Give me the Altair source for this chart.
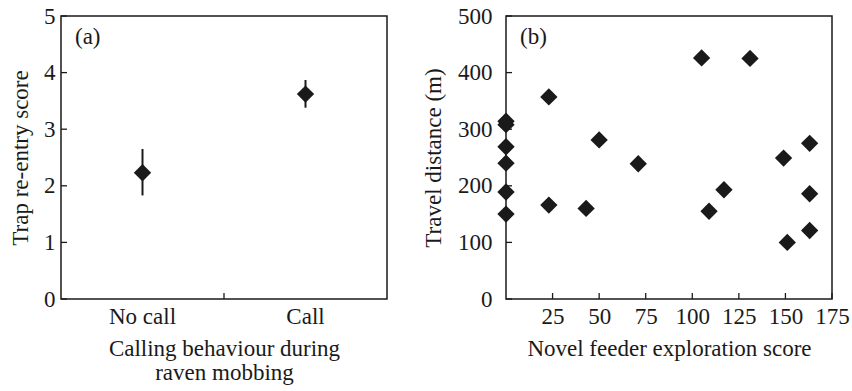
import altair as alt
import pandas as pd

# ---- Panel (a) data ----
calls = ["No call", "Call"]
call_means = [2.23, 3.62]
call_lo = [1.83, 3.38]
call_hi = [2.65, 3.87]
a_yticks = [0, 1, 2, 3, 4, 5]

# ---- Panel (b) data ----
explore = [0, 0, 0, 0, 0, 0, 23, 23, 43, 50, 71, 105, 109, 117, 131, 149, 151, 163, 163, 163]
travel = [314, 308, 269, 240, 189, 150, 357, 166, 160, 281, 239, 426, 155, 193, 425, 249, 100, 275, 186, 121]
b_xticks = [25, 50, 75, 100, 125, 150, 175]
b_yticks = [0, 100, 200, 300, 400, 500]

W, H = 326, 283
TICK = 6
FONT = "Liberation Serif"
FS = 23
INK = "#1a1a1a"

# ---------- Panel (a) ----------
dfa = pd.DataFrame({"cat": calls, "mean": call_means, "lo": call_lo, "hi": call_hi})
xa_scale = alt.Scale(type="band", domain=calls, paddingInner=0, paddingOuter=0)
xa_axis = alt.Axis(title=["Calling behaviour during", "raven mobbing"], labelAngle=0,
                   ticks=False, domain=False, grid=False, labelPadding=6, titlePadding=9)
ya_scale = alt.Scale(domain=[0, 5], nice=False)
ya_axis = alt.Axis(title="Trap re-entry score", values=a_yticks, ticks=False, domain=False,
                   grid=False, labelPadding=6, titlePadding=11)

xa = alt.X("cat:N", scale=xa_scale, axis=xa_axis, sort=calls)

a_err = alt.Chart(dfa).mark_rule(color=INK, strokeWidth=2).encode(
    x=xa,
    y=alt.Y("lo:Q", scale=ya_scale, axis=ya_axis),
    y2="hi:Q",
)
a_pts = alt.Chart(dfa).mark_point(shape="diamond", filled=True, size=300, color=INK, opacity=1).encode(
    x=xa,
    y=alt.Y("mean:Q", scale=ya_scale, axis=ya_axis),
)
a_yt = alt.Chart(pd.DataFrame({"mean": a_yticks})).mark_rule(color=INK, strokeWidth=1.3).encode(
    y=alt.Y("mean:Q", scale=ya_scale, axis=ya_axis),
    x=alt.value(0), x2=alt.value(TICK),
)
a_xt = alt.Chart(pd.DataFrame({"cat": calls[1:]})).mark_rule(color=INK, strokeWidth=1.3).encode(
    x=alt.X("cat:N", scale=xa_scale, axis=xa_axis, sort=calls, bandPosition=0),
    y=alt.value(H), y2=alt.value(H - TICK),
)
a_lab = alt.Chart(pd.DataFrame({"t": ["(a)"]})).mark_text(
    font=FONT, fontSize=FS, align="left", baseline="middle", color=INK
).encode(text="t:N", x=alt.value(14), y=alt.value(21))

panel_a = alt.layer(a_err, a_pts, a_yt, a_xt, a_lab).properties(width=W, height=H)

# ---------- Panel (b) ----------
dfb = pd.DataFrame({"explore": explore, "travel": travel})
xb_scale = alt.Scale(domain=[0, 175], nice=False)
xb_axis = alt.Axis(title="Novel feeder exploration score", values=b_xticks, ticks=False,
                   domain=False, grid=False, labelPadding=6, titlePadding=9,
                   labelOverlap=False, labelFlush=False)
yb_scale = alt.Scale(domain=[0, 500], nice=False)
yb_axis = alt.Axis(title="Travel distance (m)", values=b_yticks, ticks=False, domain=False,
                   grid=False, labelPadding=14, titlePadding=12, labelOverlap=False)

b_pts = alt.Chart(dfb).mark_point(shape="diamond", filled=True, size=300, color=INK, opacity=1, clip=False).encode(
    x=alt.X("explore:Q", scale=xb_scale, axis=xb_axis),
    y=alt.Y("travel:Q", scale=yb_scale, axis=yb_axis),
)
b_xt = alt.Chart(pd.DataFrame({"explore": b_xticks})).mark_rule(color=INK, strokeWidth=1.3).encode(
    x=alt.X("explore:Q", scale=xb_scale, axis=xb_axis),
    y=alt.value(H), y2=alt.value(H - TICK),
)
b_yt = alt.Chart(pd.DataFrame({"travel": b_yticks})).mark_rule(color=INK, strokeWidth=1.3).encode(
    y=alt.Y("travel:Q", scale=yb_scale, axis=yb_axis),
    x=alt.value(0), x2=alt.value(TICK),
)
b_lab = alt.Chart(pd.DataFrame({"t": ["(b)"]})).mark_text(
    font=FONT, fontSize=FS, align="left", baseline="middle", color=INK
).encode(text="t:N", x=alt.value(14), y=alt.value(21))

panel_b = alt.layer(b_yt, b_xt, b_pts, b_lab).properties(width=W, height=H)

chart = alt.hconcat(panel_a, panel_b, spacing=33).properties(
    padding={"left": 8, "top": 4, "right": 0, "bottom": 0},
    background="white",
).configure_view(
    stroke=INK, strokeWidth=1.5
).configure_axis(
    labelFont=FONT, labelFontSize=FS, labelColor=INK,
    titleFont=FONT, titleFontSize=FS, titleFontWeight="normal", titleColor=INK,
    titleLineHeight=24,
)

chart.save("out.html", embed_options={"renderer": "svg", "actions": False})
